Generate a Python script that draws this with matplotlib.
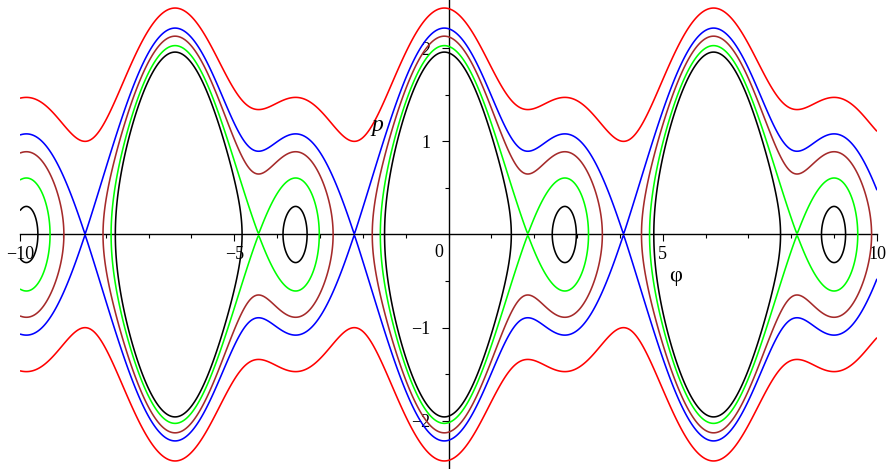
import numpy as np
import matplotlib.pyplot as plt
from matplotlib.ticker import FixedLocator, MultipleLocator

# H(phi, p) = p^2/2 + V(phi), V fitted to the curves in the picture
# V = c0 + sum_k (a_k cos k*phi + b_k sin k*phi)
c0 = 1.5455
a_coef = [-0.9757, -0.5046, -0.0112]
b_coef = [-0.0421, 0.2044, -0.0201]

# one level curve per colour (green and blue go through the saddles)
energies = [1.96, 2.0988, 2.31, 2.4990, 3.0]
colors = ['black', '#00ff00', '#a52a2a', '#0000ff', '#ff0000']

x_ticks = [-10, -5, 5, 10]
y_ticks = [-2, -1, 1, 2]
y_minor = [-2, -1.5, -1, -0.5, 0.5, 1, 1.5, 2]


def potential(phi):
    v = np.full_like(phi, c0)
    for k, (a, b) in enumerate(zip(a_coef, b_coef), start=1):
        v += a * np.cos(k * phi) + b * np.sin(k * phi)
    return v


phi = np.linspace(-10, 10, 2400)
p = np.linspace(-2.6, 2.6, 900)
PHI, P = np.meshgrid(phi, p)
H = P ** 2 / 2 + potential(PHI)

plt.rcParams['font.family'] = ['Liberation Serif', 'DejaVu Serif']

fig = plt.figure(figsize=(8.92, 4.69), dpi=100)
ax = fig.add_axes([20 / 892, 0, 857 / 892, 1])
ax.contour(PHI, P, H, levels=energies, colors=colors, linewidths=1.15)
ax.set_xlim(-10, 10)
ax.set_ylim(-2.52, 2.52)

# maple style axes through the origin
for side in ['top', 'right']:
    ax.spines[side].set_visible(False)
ax.spines['left'].set_position(('data', 0))
ax.spines['bottom'].set_position(('data', 0))
for side in ['left', 'bottom']:
    ax.spines[side].set_linewidth(1.0)
    ax.spines[side].set_zorder(0.5)

ax.set_xticks(x_ticks)
ax.set_xticklabels([f'\u2212{-t}' if t < 0 else str(t) for t in x_ticks])
ax.set_yticks(y_ticks)
ax.set_yticklabels([f'\u2212{-t}' if t < 0 else str(t) for t in y_ticks])
ax.xaxis.set_minor_locator(MultipleLocator(1))
ax.yaxis.set_minor_locator(FixedLocator(y_minor))
ax.tick_params(which='both', direction='out', width=0.8, labelsize=13)
ax.tick_params(which='major', length=5)
ax.tick_params(which='minor', length=3)
ax.tick_params(axis='x', pad=3)
ax.tick_params(axis='y', pad=8)

ax.text(-0.12, -0.1, '0', ha='right', va='top', fontsize=13)
ax.text(5.3, -0.45, '\u03c6', ha='center', va='center', fontsize=16)
ax.text(-1.65, 1.17, 'p', ha='center', va='center', fontsize=17, style='italic')

plt.savefig('out.png')
